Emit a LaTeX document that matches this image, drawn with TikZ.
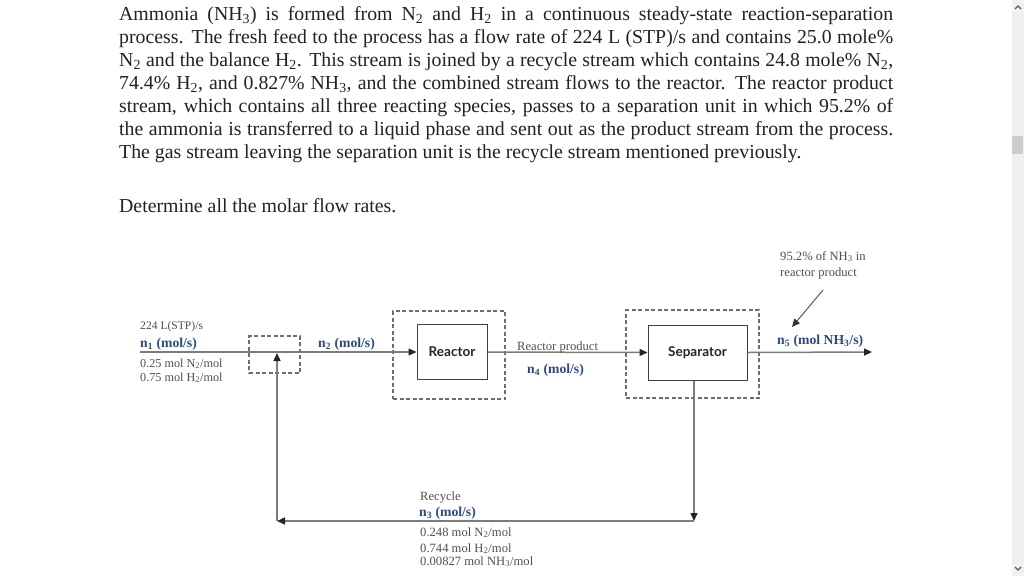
\documentclass[tikz,border=0pt]{standalone}
\usepackage{fontspec}
\setmainfont{Liberation Serif}
\newfontfamily\boxfont{Lato}
\usetikzlibrary{arrows.meta}
\definecolor{txtgray}{HTML}{505050}
\definecolor{lnblue}{HTML}{2E4A86}
\definecolor{lngray}{HTML}{7C7C7C}
\definecolor{dashgray}{HTML}{6E6E6E}
\definecolor{sbbg}{HTML}{F0F0F0}
\definecolor{sbthumb}{HTML}{CDCDCD}
\definecolor{paratext}{HTML}{222222}
\begin{document}
\begin{tikzpicture}[x=1pt,y=-1pt,
  flow/.style={draw=lngray, line width=1.5pt},
  arr/.style={-{Triangle[length=8pt,width=7pt,color=black!85]}},
  unitbox/.style={draw=black!75, line width=1pt, fill=white, font=\boxfont\bfseries\fontsize{13.5}{15}\selectfont, text=black!85, inner sep=0pt},
  dashbox/.style={draw=dashgray, line width=1.2pt, dash pattern=on 4pt off 2.5pt},
  graylbl/.style={anchor=base west, inner sep=0pt, text=txtgray, font=\fontsize{12.6}{14}\selectfont},
  bluelbl/.style={anchor=base west, inner sep=0pt, text=lnblue, font=\bfseries\fontsize{13.7}{15}\selectfont},
  para/.style={anchor=base west, inner sep=0pt, text=paratext, font=\fontsize{19.8}{23}\selectfont}
]
\useasboundingbox (0,0) rectangle (1024,576);
\fill[white] (0,0) rectangle (1024,576);

% problem statement
\node[para] (l1) at (119,20) {\makebox[774pt][s]{Ammonia (NH\textsubscript{3}) is formed from N\textsubscript{2} and H\textsubscript{2} in a continuous steady-state reaction-separation}};
\node[para] (l2) at (119,43) {\makebox[774pt][s]{process. The fresh feed to the process has a flow rate of 224 L (STP)/s and contains 25.0 mole\%}};
\node[para] (l3) at (119,66) {\makebox[774pt][s]{N\textsubscript{2} and the balance H\textsubscript{2}. This stream is joined by a recycle stream which contains 24.8 mole\% N\textsubscript{2},}};
\node[para] (l4) at (119,89) {\makebox[774pt][s]{74.4\% H\textsubscript{2}, and 0.827\% NH\textsubscript{3}, and the combined stream flows to the reactor. The reactor product}};
\node[para] (l5) at (119,112) {\makebox[774pt][s]{stream, which contains all three reacting species, passes to a separation unit in which 95.2\% of}};
\node[para] (l6) at (119,135) {\makebox[774pt][s]{the ammonia is transferred to a liquid phase and sent out as the product stream from the process.}};
\node[para] (l7) at (119,158) {The gas stream leaving the separation unit is the recycle stream mentioned previously.};
\node[para] (q) at (119,212) {Determine all the molar flow rates.};

% units
\node[dashbox, minimum width=112pt, minimum height=88pt] (rdash) at (449,355) {};
\node[dashbox, minimum width=133pt, minimum height=88pt] (sdash) at (692.5,354) {};
\node[dashbox, minimum width=51pt, minimum height=37pt] (mix) at (274.5,354.5) {};
\node[unitbox, minimum width=70pt, minimum height=55pt] (reactor) at (452,352) {Reactor};
\node[unitbox, minimum width=99pt, minimum height=55pt] (sep) at (697.5,352.5) {Separator};

% coordinates
\coordinate (feed) at (140,352);
\coordinate (prod) at (872,352);
\coordinate (rcR) at (694,521);
\coordinate (rcL) at (277,521);
\coordinate (mixin) at (277,353);
\coordinate (ptrS) at (823,290);
\coordinate (ptrE) at (792,327);

% streams
\draw[flow,arr] (feed) -- (reactor.west);
\draw[flow,arr] (reactor.east) -- (sep.west);
\draw[flow,arr] (sep.east) -- (prod);
\draw[flow,arr] ([xshift=-3.5pt]sep.south) -- (rcR);
\draw[flow,arr] (rcR) -- (rcL);
\draw[flow,arr] (rcL) -- (mixin);
\draw[draw=black!60, line width=1.1pt, -{Triangle[length=8pt,width=7pt,color=black!80]}] (ptrS) -- (ptrE);

% labels
\node[graylbl, font=\fontsize{11.6}{13}\selectfont] (f1) at (140,329) {224 L(STP)/s};
\node[bluelbl] (f2) at (140,347) {n\textsubscript{1} (mol/s)};
\node[graylbl, font=\fontsize{12.2}{14}\selectfont] (f3) at (140,367) {0.25 mol N\textsubscript{2}/mol};
\node[graylbl, font=\fontsize{12.2}{14}\selectfont] (f4) at (140,381) {0.75 mol H\textsubscript{2}/mol};
\node[bluelbl] (n2) at (318,347) {n\textsubscript{2} (mol/s)};
\node[graylbl] (rp) at (517,350) {Reactor product};
\node[bluelbl] (n4) at (527,373) {n\textsubscript{4} (mol/s)};
\node[bluelbl] (n5) at (777,344) {n\textsubscript{5} (mol NH\textsubscript{3}/s)};
\node[graylbl] (p1) at (780,260) {95.2\% of NH\textsubscript{3} in};
\node[graylbl] (p2) at (780,276) {reactor product};
\node[graylbl] (r1) at (420,500) {Recycle};
\node[bluelbl] (r2) at (419,516) {n\textsubscript{3} (mol/s)};
\node[graylbl] (r3) at (420,536) {0.248 mol N\textsubscript{2}/mol};
\node[graylbl] (r4) at (420,552) {0.744 mol H\textsubscript{2}/mol};
\node[graylbl] (r5) at (420,565) {0.00827 mol NH\textsubscript{3}/mol};

% scrollbar
\fill[sbbg] (1012,0) rectangle (1024,576);
\fill[sbthumb] (1012,136) rectangle (1023,154);
\draw[black!65, line width=1.2pt] (1015,9) -- (1018,6) -- (1021,9);
\draw[black!65, line width=1.2pt] (1015,567) -- (1018,570) -- (1021,567);
\end{tikzpicture}
\end{document}
